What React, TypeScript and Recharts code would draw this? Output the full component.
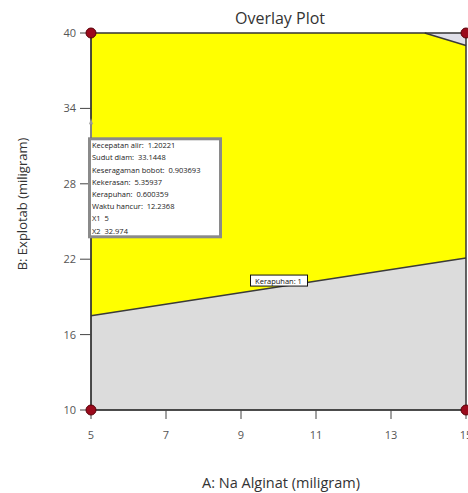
import {
  Area,
  ComposedChart,
  Line,
  ReferenceDot,
  ReferenceLine,
  Scatter,
  XAxis,
  YAxis,
} from "recharts";

const A_TICKS = [5, 7, 9, 11, 13, 15];
const B_TICKS = [10, 16, 22, 28, 34, 40];

// Kerapuhan = 1 contour (lower edge of the feasible region)
const CONTOUR_A = [5, 15];
const CONTOUR_B = [17.5, 22.1];

// upper-right corner cut
const CAP_A = [13.9, 15];
const CAP_B = [40, 39];

const DESIGN_A = [5, 5, 15, 15];
const DESIGN_B = [10, 40, 10, 40];

const FLAG_POINT = { a: 5, b: 32.974 };
const FLAG_LINES = [
  "Kecepatan alir:  1.20221",
  "Sudut diam:  33.1448",
  "Keseragaman bobot:  0.903693",
  "Kekerasan:  5.35937",
  "Kerapuhan:  0.600359",
  "Waktu hancur:  12.2368",
  "X1  5",
  "X2  32.974",
];
const CONTOUR_LABEL = { a: 10, b: 20.3, text: "Kerapuhan: 1" };

const fullArea = [5, 15].map((a) => ({ a, all: [10, 40] }));
const feasible = CONTOUR_A.map((a, i) => ({ a, band: [CONTOUR_B[i], 40] }));
const capData = CAP_A.map((a, i) => ({ a, cap: [CAP_B[i], 40] }));
const contourData = CONTOUR_A.map((a, i) => ({ a, b: CONTOUR_B[i] }));
const capLine = CAP_A.map((a, i) => ({ a, b: CAP_B[i] }));
const designPoints = DESIGN_A.map((a, i) => ({ a, b: DESIGN_B[i] }));

const FONT = "'Open Sans', 'DejaVu Sans', sans-serif";
const tickStyle = { fontSize: 11, fill: "#555", fontFamily: FONT };

function FlagBox(props: any) {
  const { cx, cy } = props;
  if (cx == null || cy == null) return null;
  const left = cx - 3;
  const top = cy + 16;
  return (
    <g>
      <line x1={cx} y1={cy} x2={cx} y2={top} stroke="#999" strokeWidth={1.5} />
      <path d={`M${cx - 2},${cy + 3} L${cx},${cy - 3} L${cx + 2},${cy + 3} Z`} fill="#999" />
      <rect x={left + 1.5} y={top + 1.5} width={131} height={98} fill="#fff" stroke="#8a8a8a" strokeWidth={3} />
      {FLAG_LINES.map((t, i) => (
        <text
          key={t}
          x={left + 4}
          y={top + 11 + i * 12.2}
          fontSize={7.5}
          fill="#222"
          fontFamily={FONT}
          style={{ whiteSpace: "pre" }}
        >
          {t}
        </text>
      ))}
    </g>
  );
}

function ContourLabel(props: any) {
  const { cx, cy } = props;
  if (cx == null || cy == null) return null;
  return (
    <g>
      <rect x={cx - 28} y={cy - 5.5} width={57} height={11} fill="#fff" stroke="#111" strokeWidth={1} />
      <text x={cx} y={cy + 3} textAnchor="middle" fontSize={7.5} fill="#111" fontFamily={FONT}>
        {CONTOUR_LABEL.text}
      </text>
    </g>
  );
}

function DesignDot(p: any) {
  return <circle cx={p.cx} cy={p.cy} r={5} fill="#9b0a1c" stroke="#5a0008" strokeWidth={1} />;
}

export default function App() {
  return (
    <div
      style={{
        position: "absolute",
        left: 8,
        top: 8,
        width: 460,
        height: 485,
        overflow: "hidden",
        fontFamily: FONT,
      }}
    >
      <div
        style={{
          position: "absolute",
          left: 0,
          top: 0,
          width: 544,
          textAlign: "center",
          fontSize: 16,
          lineHeight: "20px",
          color: "#333",
        }}
      >
        Overlay Plot
      </div>
      <div
        style={{
          position: "absolute",
          left: 0,
          top: 466,
          width: 546,
          textAlign: "center",
          fontSize: 14.5,
          lineHeight: "18px",
          color: "#333",
        }}
      >
        A: Na Alginat (miligram)
      </div>
      <div
        style={{
          position: "absolute",
          left: 14 - 110,
          top: 196 - 9,
          width: 220,
          height: 18,
          textAlign: "center",
          fontSize: 13,
          lineHeight: "18px",
          color: "#333",
          transform: "rotate(-90deg)",
        }}
      >
        B: Explotab (miligram)
      </div>
      <ComposedChart
        width={480}
        height={485}
        margin={{ top: 25, right: 22, bottom: 43, left: 0 }}
        style={{ position: "absolute", left: 0, top: 0 }}
      >
        <XAxis
          type="number"
          dataKey="a"
          domain={[5, 15]}
          ticks={A_TICKS}
          height={40}
          tick={tickStyle}
          tickSize={9}
          tickMargin={12}
          axisLine={{ stroke: "#333" }}
          tickLine={{ stroke: "#444" }}
        />
        <YAxis
          type="number"
          dataKey="b"
          domain={[10, 40]}
          ticks={B_TICKS}
          width={83}
          tick={tickStyle}
          tickSize={11}
          tickMargin={4}
          axisLine={{ stroke: "#333" }}
          tickLine={{ stroke: "#444" }}
        />
        <Area data={fullArea} dataKey="all" type="linear" fill="#dcdcdc" fillOpacity={1} stroke="none" isAnimationActive={false} />
        <Area data={feasible} dataKey="band" type="linear" fill="#ffff00" fillOpacity={1} stroke="none" isAnimationActive={false} />
        <Area data={capData} dataKey="cap" type="linear" fill="#dfdfe8" fillOpacity={1} stroke="none" isAnimationActive={false} />
        <Line data={contourData} dataKey="b" type="linear" stroke="#3a3a3a" strokeWidth={1.5} dot={false} isAnimationActive={false} />
        <Line data={capLine} dataKey="b" type="linear" stroke="#3a3a3a" strokeWidth={1.5} dot={false} isAnimationActive={false} />
        <ReferenceLine y={40} stroke="#333" strokeWidth={1.5} />
        <ReferenceLine x={15} stroke="#333" strokeWidth={1.5} />
        <ReferenceLine x={5} stroke="#333" strokeWidth={1.5} />
        <ReferenceLine y={10} stroke="#333" strokeWidth={1.5} />
        <ReferenceDot x={CONTOUR_LABEL.a} y={CONTOUR_LABEL.b} shape={ContourLabel} />
        <ReferenceDot x={FLAG_POINT.a} y={FLAG_POINT.b} shape={FlagBox} />
        <Scatter data={designPoints} dataKey="b" fill="#9b0a1c" shape={DesignDot} isAnimationActive={false} />
      </ComposedChart>
    </div>
  );
}
